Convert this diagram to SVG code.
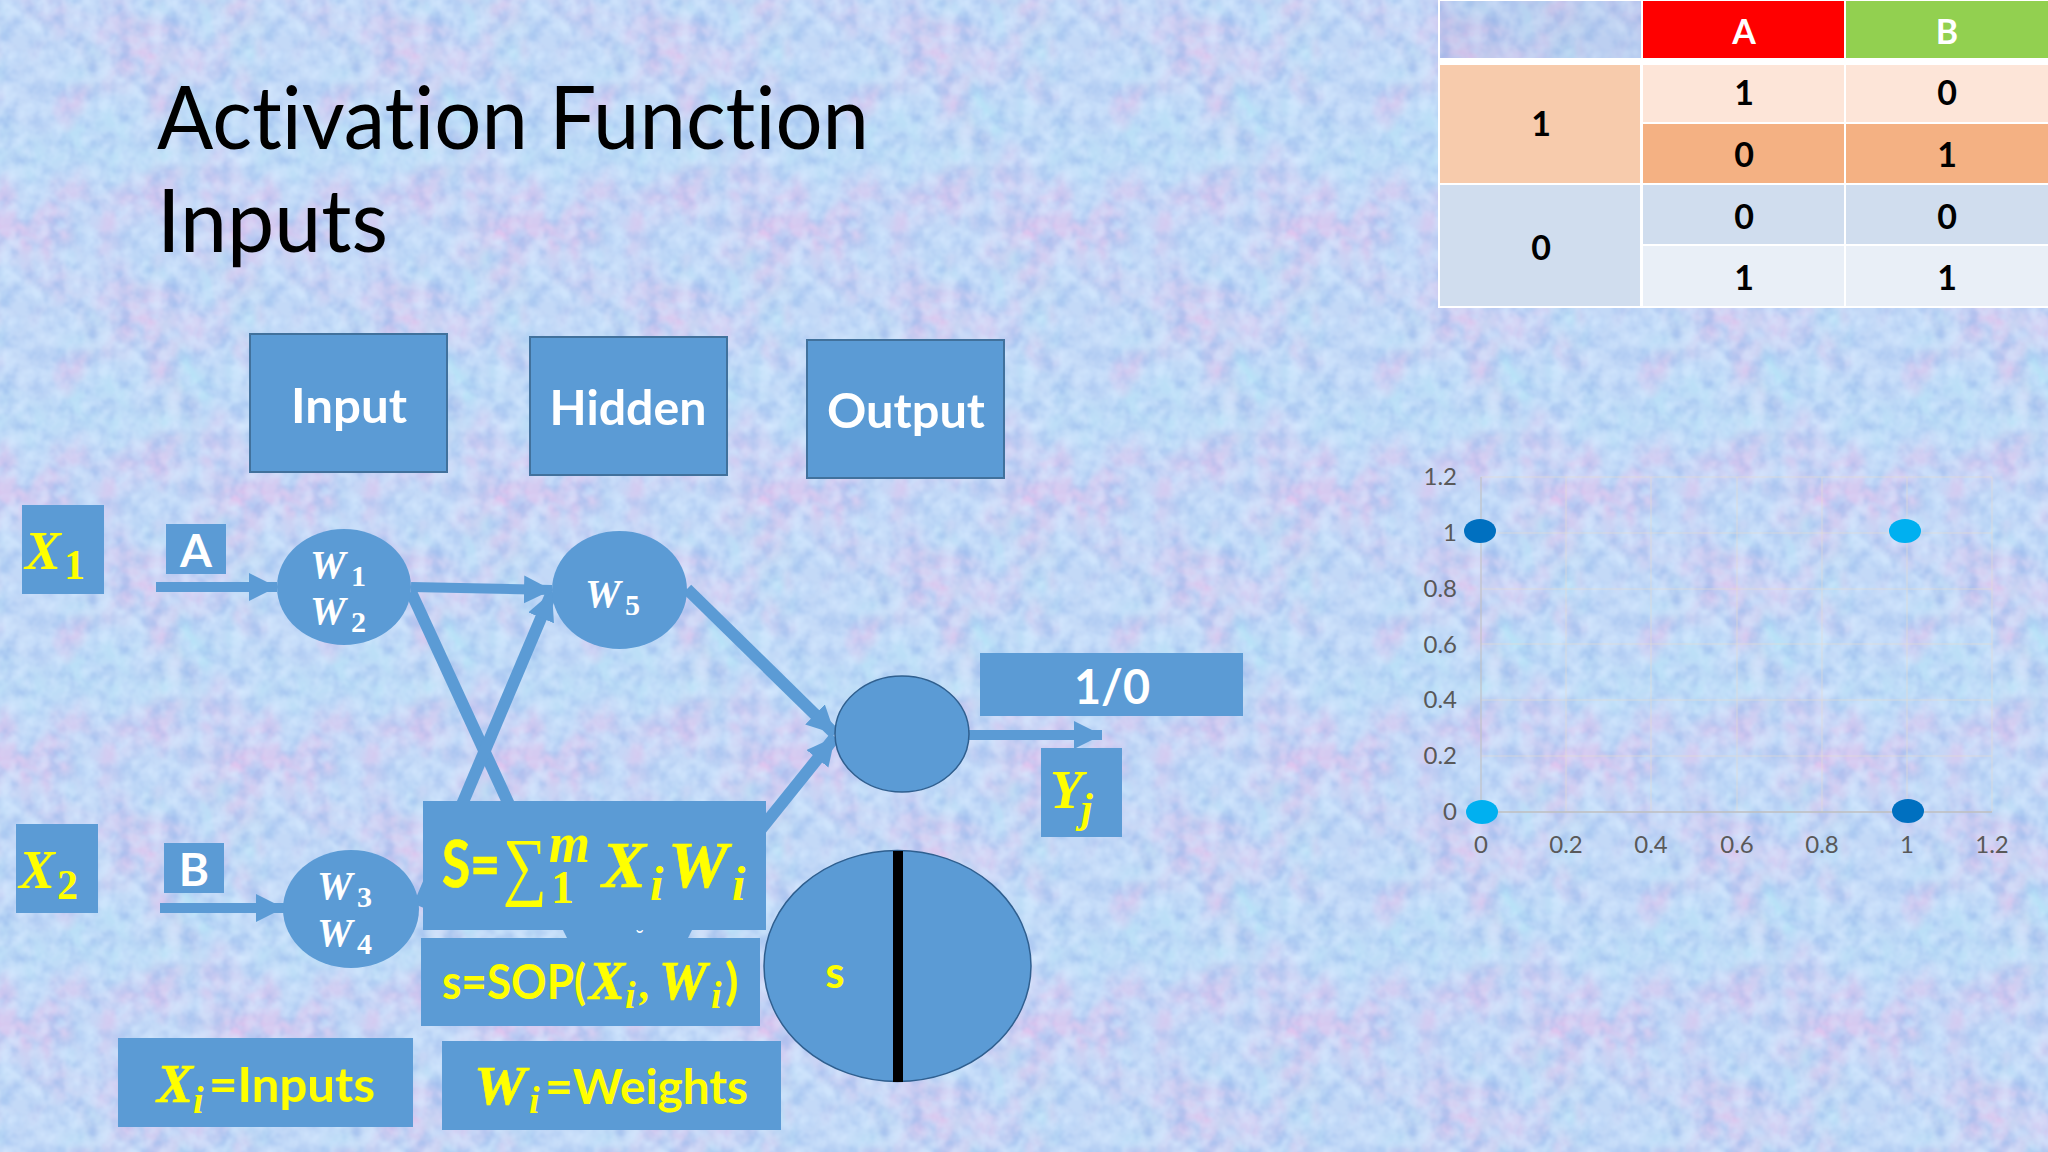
<svg xmlns="http://www.w3.org/2000/svg" width="2048" height="1152" viewBox="0 0 2048 1152">
<style>
.b{fill:#5B9BD5}
.bs{fill:#5B9BD5;stroke:#41719C;stroke-width:2}
.c{fill:#5B9BD5;stroke:none}
.cs{fill:#5B9BD5;stroke:#2F5F8F;stroke-width:1.5}
.l{stroke:#5B9BD5;stroke-width:10;fill:none}
.l2{stroke:#5B9BD5;stroke-width:12;fill:none}
text{font-variant-ligatures:none}
.t{font-family:Lato,"Liberation Sans",sans-serif;font-weight:700}
.m{font-family:"Liberation Serif",serif;font-weight:700;font-style:italic}
.n{font-family:"Liberation Serif",serif;font-weight:700}
.r{font-family:"Liberation Serif",serif;font-weight:400}
.w{fill:#fff}.y{fill:#FF0}.k{fill:#000}
.ys{fill:#FF0;stroke:#FF0;stroke-width:.7}
.ax{font-family:Lato,"Liberation Sans",sans-serif;font-size:24px;fill:#595959}
.g{stroke:#E6DDD0;stroke-width:1.5;opacity:.4}
.d{font-size:34px;text-anchor:middle}
</style>
<defs>
<marker id="h" markerUnits="userSpaceOnUse" markerWidth="30" markerHeight="30" refX="28" refY="14" orient="auto"><path d="M0 0L28 14L0 28Z" fill="#5B9BD5"/></marker>
<filter id="tex" filterUnits="userSpaceOnUse" primitiveUnits="userSpaceOnUse" x="-10" y="-10" width="2068" height="1172" color-interpolation-filters="sRGB">
<feFlood x="0" y="0" width="264" height="266" flood-color="#C3D9F7" result="base"/>
<feTurbulence x="0" y="0" width="264" height="266" type="fractalNoise" baseFrequency="0.06" numOctaves="4" seed="7" stitchTiles="stitch" result="fine"/>
<feColorMatrix x="0" y="0" width="264" height="266" in="fine" type="matrix" values="0 0 0 0 .60  0 0 0 0 .73  0 0 0 0 .93  1.6 0 0 0 -.62" result="blue"/>
<feTurbulence x="0" y="0" width="264" height="266" type="fractalNoise" baseFrequency="0.015 0.012" numOctaves="3" seed="21" stitchTiles="stitch" result="coarse"/>
<feColorMatrix x="0" y="0" width="264" height="266" in="coarse" type="matrix" values="0 0 0 0 .90  0 0 0 0 .74  0 0 0 0 .92  0 2.6 0 0 -1.15" result="pink"/>
<feColorMatrix x="0" y="0" width="264" height="266" in="coarse" type="matrix" values="0 0 0 0 .70  0 0 0 0 .90  0 0 0 0 .97  0 0 2.4 0 -1.05" result="cyan"/>
<feColorMatrix x="0" y="0" width="264" height="266" in="fine" type="matrix" values="0 0 0 0 .84  0 0 0 0 .92  0 0 0 0 1  0 0 1.6 0 -.62" result="light"/>
<feMerge x="0" y="0" width="264" height="266" result="m"><feMergeNode in="base"/><feMergeNode in="cyan"/><feMergeNode in="pink"/><feMergeNode in="blue"/><feMergeNode in="light"/></feMerge>
<feTile in="m" x="-10" y="-10" width="2068" height="1172" result="tile"/>
<feGaussianBlur in="tile" stdDeviation=".8" x="-10" y="-10" width="2068" height="1172"/>
</filter>
</defs>
<rect id="background" x="-10" y="-10" width="2068" height="1172" fill="#C3D9F7" filter="url(#tex)"/>
<g id="title"><text x="157" y="149" font-size="87" textLength="712" lengthAdjust="spacingAndGlyphs" font-family="Lato,'Liberation Sans',sans-serif" fill="#000">Activation Function</text>
<text x="157" y="252" font-size="87" textLength="231" lengthAdjust="spacingAndGlyphs" font-family="Lato,'Liberation Sans',sans-serif" fill="#000">Inputs</text></g>

<g id="connectors">
<line class="l" x1="156" y1="587" x2="277" y2="587" marker-end="url(#h)"/>
<line class="l" x1="160" y1="908" x2="284" y2="908" marker-end="url(#h)"/>
<line class="l" x1="411" y1="587" x2="552" y2="590" marker-end="url(#h)"/>
<line class="l2" x1="411" y1="592" x2="530" y2="850"/>
<line class="l2" x1="419" y1="906" x2="552" y2="592" marker-end="url(#h)"/>
<line class="l2" x1="687" y1="589" x2="835" y2="734" marker-end="url(#h)"/>
<line class="l2" x1="700" y1="905" x2="835" y2="737" marker-end="url(#h)"/>
<line class="l" x1="968" y1="735" x2="1102" y2="735" marker-end="url(#h)"/>
</g>

<g id="box-input"><rect class="bs" x="250" y="334" width="197" height="138"/><text class="t w" x="349" y="423" font-size="48" text-anchor="middle" textLength="116" lengthAdjust="spacingAndGlyphs">Input</text></g>
<g id="box-hidden"><rect class="bs" x="530" y="337" width="197" height="138"/><text class="t w" x="628" y="425" font-size="48" text-anchor="middle" textLength="157" lengthAdjust="spacingAndGlyphs">Hidden</text></g>
<g id="box-output"><rect class="bs" x="807" y="340" width="197" height="138"/><text class="t w" x="906" y="428" font-size="48" text-anchor="middle" textLength="158" lengthAdjust="spacingAndGlyphs">Output</text></g>

<g id="x1"><rect class="b" x="22" y="505" width="82" height="89"/><text class="m y" x="25" y="569" font-size="54">X</text><text class="n y" x="64" y="579" font-size="42">1</text></g>
<g id="x2"><rect class="b" x="16" y="824" width="82" height="89"/><text class="m y" x="19" y="888" font-size="54">X</text><text class="n y" x="57" y="899" font-size="42">2</text></g>
<g id="a"><rect class="b" x="166" y="524" width="60" height="50"/><text class="t w" x="196" y="567" font-size="46" text-anchor="middle">A</text></g>
<g id="b"><rect class="b" x="164" y="843" width="60" height="50"/><text class="t w" x="194" y="886" font-size="46" text-anchor="middle">B</text></g>

<g id="w12"><ellipse class="c" cx="344" cy="587" rx="67" ry="58"/>
<text class="m w" x="310" y="578" font-size="40">W</text><text class="n w" x="351" y="586" font-size="30">1</text>
<text class="m w" x="310" y="624" font-size="40">W</text><text class="n w" x="351" y="632" font-size="30">2</text></g>
<g id="w34"><ellipse class="c" cx="351" cy="909" rx="68" ry="59"/>
<text class="m w" x="317" y="899" font-size="40">W</text><text class="n w" x="357" y="907" font-size="30">3</text>
<text class="m w" x="317" y="946" font-size="40">W</text><text class="n w" x="357" y="954" font-size="30">4</text></g>
<g id="w5"><ellipse class="c" cx="619.500" cy="590" rx="67.500" ry="59"/>
<text class="m w" x="585" y="607" font-size="40">W</text><text class="n w" x="625" y="615" font-size="30">5</text></g>
<g id="output-node"><ellipse class="cs" cx="902" cy="734" rx="67" ry="58"/></g>

<g id="result"><rect class="b" x="980" y="653" width="263" height="63"/><text class="t w" x="1112" y="704" font-size="48" text-anchor="middle" textLength="76" lengthAdjust="spacingAndGlyphs">1/0</text></g>
<g id="yj"><rect class="b" x="1041" y="748" width="81" height="89"/><text class="m y" x="1050" y="808" font-size="54">Y</text><text class="m y" x="1081" y="822" font-size="42">j</text></g>

<g id="sum"><polygon class="b" points="563,930 692,930 688,938 567,938"/><text x="640" y="945" font-size="20" fill="#fff" text-anchor="middle" font-family="'Liberation Sans',sans-serif">˘</text>
<rect class="b" x="423" y="801" width="343" height="129"/>
<text class="t ys" x="442" y="887" font-size="65" textLength="58" lengthAdjust="spacingAndGlyphs">S=</text>
<text x="503" y="891" font-size="76" class="r y" textLength="44" lengthAdjust="spacingAndGlyphs">∑</text>
<text class="m y" x="549" y="862" font-size="56" textLength="41" lengthAdjust="spacingAndGlyphs">m</text><text class="n y" x="551" y="903" font-size="46">1</text>
<text class="m ys" x="602" y="887" font-size="66">X</text><text class="m y" x="650" y="900" font-size="48">i</text>
<text class="m ys" x="668" y="887" font-size="66" textLength="60" lengthAdjust="spacingAndGlyphs">W</text><text class="m y" x="732" y="900" font-size="48">i</text></g>

<g id="sop"><rect class="b" x="421" y="938" width="339" height="88"/>
<text class="t y" x="442" y="999" font-size="48" textLength="144" lengthAdjust="spacingAndGlyphs">s=SOP(</text>
<text class="m ys" x="589" y="999" font-size="54">X</text><text class="m y" x="625" y="1008" font-size="38">i</text><text class="m y" x="640" y="999" font-size="44">,</text>
<text class="m ys" x="659" y="999" font-size="54">W</text><text class="m y" x="711" y="1008" font-size="38">i</text><text class="t y" x="725" y="999" font-size="50">)</text></g>

<g id="xi"><rect class="b" x="118" y="1038" width="295" height="89"/>
<text class="m ys" x="157" y="1102" font-size="54">X</text><text class="m y" x="193" y="1113" font-size="38">i</text>
<text class="t y" x="209" y="1102" font-size="48" textLength="166" lengthAdjust="spacingAndGlyphs">=Inputs</text></g>
<g id="wi"><rect class="b" x="442" y="1041" width="339" height="89"/>
<text class="m ys" x="474" y="1104" font-size="54" textLength="52" lengthAdjust="spacingAndGlyphs">W</text><text class="m y" x="529" y="1113" font-size="38">i</text>
<text class="t y" x="545" y="1104" font-size="48" textLength="203" lengthAdjust="spacingAndGlyphs">=Weights</text></g>

<g id="s-node"><ellipse class="cs" cx="897.500" cy="966" rx="133.500" ry="115.500"/><rect x="893" y="851" width="10" height="231" fill="#000"/>
<text class="t y" x="835" y="988" font-size="44" text-anchor="middle">s</text></g>

<g id="table">
<path d="M1438 0H2048V308H1438ZM1440 1V58H1641V1Z" fill="#fff" fill-rule="evenodd"/>
<rect x="1440" y="1" width="201" height="57" fill="#8C8CC8" opacity=".12"/>
<rect x="1643" y="1" width="201" height="57" fill="#F00"/>
<rect x="1846" y="1" width="202" height="57" fill="#92D050"/>
<rect x="1440" y="65" width="200" height="118" fill="#F7CBAC"/>
<rect x="1440" y="185" width="200" height="121" fill="#D0DDEE"/>
<rect x="1643" y="65" width="201" height="57" fill="#FDE5D8"/>
<rect x="1846" y="65" width="202" height="57" fill="#FDE5D8"/>
<rect x="1643" y="124" width="201" height="59" fill="#F4B183"/>
<rect x="1846" y="124" width="202" height="59" fill="#F4B183"/>
<rect x="1643" y="185" width="201" height="59" fill="#D0DDEE"/>
<rect x="1846" y="185" width="202" height="59" fill="#D0DDEE"/>
<rect x="1643" y="246" width="201" height="60" fill="#E9EFF7"/>
<rect x="1846" y="246" width="202" height="60" fill="#E9EFF7"/>
<g class="t">
<text class="w d" x="1744" y="44">A</text><text class="w d" x="1947" y="44">B</text>
<text class="k d" x="1541" y="136">1</text><text class="k d" x="1541" y="260">0</text>
<text class="k d" x="1744" y="105">1</text><text class="k d" x="1947" y="105">0</text>
<text class="k d" x="1744" y="167">0</text><text class="k d" x="1947" y="167">1</text>
<text class="k d" x="1744" y="229">0</text><text class="k d" x="1947" y="229">0</text>
<text class="k d" x="1744" y="290">1</text><text class="k d" x="1947" y="290">1</text>
</g></g>

<g id="chart">
<g><line class="g" x1="1566" y1="477" x2="1566" y2="812"/><line class="g" x1="1651" y1="477" x2="1651" y2="812"/><line class="g" x1="1737" y1="477" x2="1737" y2="812"/><line class="g" x1="1822" y1="477" x2="1822" y2="812"/><line class="g" x1="1907" y1="477" x2="1907" y2="812"/><line class="g" x1="1992" y1="477" x2="1992" y2="812"/>
<line class="g" x1="1481" y1="477" x2="1992" y2="477"/><line class="g" x1="1481" y1="533" x2="1992" y2="533"/><line class="g" x1="1481" y1="589" x2="1992" y2="589"/><line class="g" x1="1481" y1="644" x2="1992" y2="644"/><line class="g" x1="1481" y1="700" x2="1992" y2="700"/><line class="g" x1="1481" y1="756" x2="1992" y2="756"/></g>
<line x1="1481" y1="477" x2="1481" y2="812" stroke="#BFBFBF" stroke-width="1.500" opacity=".7"/>
<line x1="1481" y1="812" x2="1992" y2="812" stroke="#BFBFBF" stroke-width="1.500"/>
<g text-anchor="end"><text class="ax" x="1457" y="485">1.2</text><text class="ax" x="1457" y="541">1</text><text class="ax" x="1457" y="597">0.8</text><text class="ax" x="1457" y="653">0.6</text><text class="ax" x="1457" y="708">0.4</text><text class="ax" x="1457" y="764">0.2</text><text class="ax" x="1457" y="820">0</text></g>
<g text-anchor="middle"><text class="ax" x="1481" y="853">0</text><text class="ax" x="1566" y="853">0.2</text><text class="ax" x="1651" y="853">0.4</text><text class="ax" x="1737" y="853">0.6</text><text class="ax" x="1822" y="853">0.8</text><text class="ax" x="1907" y="853">1</text><text class="ax" x="1992" y="853">1.2</text></g>
<ellipse cx="1480" cy="531" rx="16" ry="12" fill="#0070C0"/><ellipse cx="1905" cy="531" rx="16" ry="12" fill="#00B0F0"/><ellipse cx="1482" cy="812" rx="16" ry="12" fill="#00B0F0"/><ellipse cx="1908" cy="811" rx="16" ry="12" fill="#0070C0"/>
</g>
</svg>
